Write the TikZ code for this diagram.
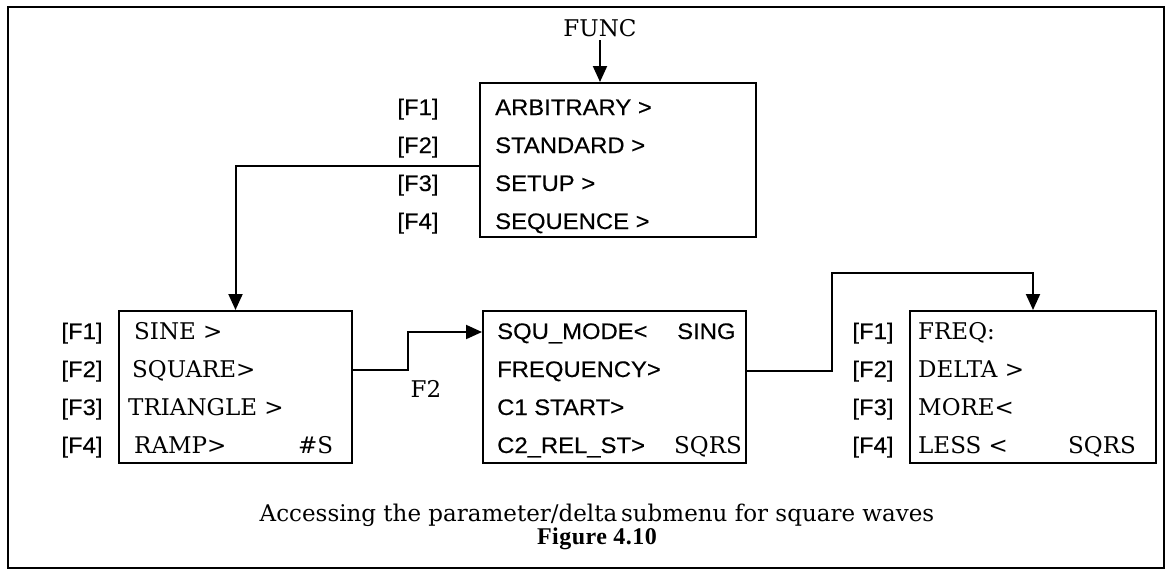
\documentclass[tikz,border=0pt]{standalone}
\usepackage{fontspec}
\setmainfont{DejaVu Serif}
\newfontfamily\menusans[FakeStretch=1.06, FakeBold=0.3]{Liberation Sans}
\newfontfamily\figfont[LetterSpace=2]{Liberation Serif}
\usetikzlibrary{arrows.meta}

\begin{document}
\begin{tikzpicture}[x=1pt, y=-1pt, font=\fontsize{23}{26}\selectfont,
  menubox/.style={draw, line width=2pt, inner sep=0pt, anchor=north west},
  entry/.style={anchor=base west, inner sep=0pt},
  sansentry/.style={entry, font=\fontsize{22.5}{26}\selectfont\menusans},
  fkey/.style={anchor=base, inner sep=0pt, font=\fontsize{22.5}{26}\selectfont\menusans},
  wire/.style={line width=2pt},
  flow/.style={wire, -{Triangle[length=16pt, width=14pt]}}]

	\useasboundingbox (0,0) rectangle (1169,574);
	\draw[line width=2.5pt] (8,7) rectangle (1164,568);

	% main function menu
	\node (func) at (600,28) {FUNC};
	\node[menubox, minimum width=276pt, minimum height=154pt] (mainmenu) at (479,82) {};
	\node[sansentry] (arbitrary) at (495,115) {ARBITRARY >};
	\node[sansentry] (standard) at (495,153) {STANDARD >};
	\node[sansentry] (setup) at (495,191) {SETUP >};
	\node[sansentry] (sequence) at (495,229) {SEQUENCE >};
	\node[fkey] (mainF1) at (418,115) {[F1]};
	\node[fkey] (mainF2) at (418,153) {[F2]};
	\node[fkey] (mainF3) at (418,191) {[F3]};
	\node[fkey] (mainF4) at (418,229) {[F4]};

	% standard waveform menu
	\node[menubox, minimum width=233pt, minimum height=152pt] (wavemenu) at (118,310) {};
	\node[entry] (sine) at (134,339) {SINE >};
	\node[entry] (square) at (132,377) {SQUARE>};
	\node[entry] (triangle) at (128,415) {TRIANGLE >};
	\node[entry] (ramp) at (134,453) {RAMP>};
	\node[entry] (waveS) at (298,453) {\#S};
	\node[fkey] (waveF1) at (82,339) {[F1]};
	\node[fkey] (waveF2) at (82,377) {[F2]};
	\node[fkey] (waveF3) at (82,415) {[F3]};
	\node[fkey] (waveF4) at (82,453) {[F4]};

	% square wave menu
	\node[menubox, minimum width=263pt, minimum height=152pt] (squmenu) at (482,310) {};
	\node[sansentry] (squmode) at (497,339) {SQU\_MODE<};
	\node[sansentry] (sing) at (677,339) {SING};
	\node[sansentry] (frequency) at (497,377) {FREQUENCY>};
	\node[sansentry] (cstart) at (497,415) {C1 START>};
	\node[sansentry] (crelst) at (497,453) {C2\_REL\_ST>};
	\node[entry] (squsqrs) at (674,453) {SQRS};

	% parameter/delta menu
	\node[menubox, minimum width=246pt, minimum height=152pt] (deltamenu) at (909,310) {};
	\node[entry] (freq) at (918,339) {FREQ:};
	\node[entry] (delta) at (918,377) {DELTA >};
	\node[entry] (more) at (918,415) {MORE<};
	\node[entry] (less) at (918,453) {LESS <};
	\node[entry] (deltasqrs) at (1068,453) {SQRS};
	\node[fkey] (deltaF1) at (873,339) {[F1]};
	\node[fkey] (deltaF2) at (873,377) {[F2]};
	\node[fkey] (deltaF3) at (873,415) {[F3]};
	\node[fkey] (deltaF4) at (873,453) {[F4]};

	% connectors
	\coordinate (bendA) at (408,332);
	\coordinate (bendB) at (832,273);
	\draw[flow] (func.south) -- (func.south |- mainmenu.north);
	\draw[flow] ([yshift=-6pt]mainmenu.west) -| (wavemenu.north);
	\draw[flow] ([yshift=17pt]wavemenu.east) -| (bendA) -- (squmenu.west |- bendA);
	\node (keyF2) at (426,389) {F2};
	\draw[flow] ([yshift=16pt]squmenu.east) -| (bendB) -| (deltamenu.north);

	% caption
	\node (caption) at (597,515) {Accessing the parameter/delta\,submenu for square waves};
	\node[font=\fontsize{24}{28}\selectfont\figfont\bfseries] (fignum) at (597,539) {Figure 4.10};

\end{tikzpicture}
\end{document}
